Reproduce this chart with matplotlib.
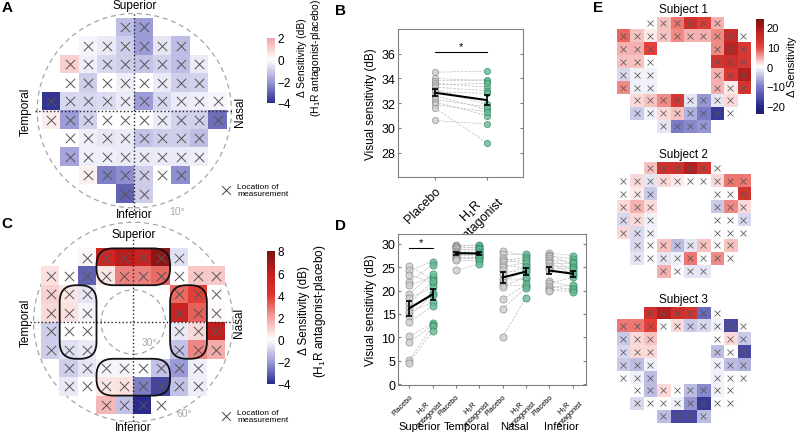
import numpy as np
import matplotlib
matplotlib.use("Agg")
import matplotlib.pyplot as plt
from matplotlib.colors import LinearSegmentedColormap
from matplotlib.patches import Circle, FancyBboxPatch

plt.rcParams['font.family'] = ['Liberation Sans', 'DejaVu Sans']
plt.rcParams['mathtext.fontset'] = 'custom'
plt.rcParams['mathtext.rm'] = 'Liberation Sans'
plt.rcParams['mathtext.it'] = 'Liberation Sans:italic'

nan = np.nan

# ---------------- data ----------------
# A: 10x10 grid, rows superior -> inferior, cols temporal -> nasal (dB)
grid_a = [
    [nan, nan, nan, nan, -1.3, -2.0, nan, nan, nan, nan],
    [nan, nan, -0.2, -0.4, -1.0, -2.0, -0.5, -1.3, nan, nan],
    [nan, 1.0, -0.3, -0.8, -1.0, -1.2, -0.9, -1.3, -0.4, nan],
    [nan, 0.0, -1.0, 0.0, -0.3, 0.0, -0.4, -1.0, -0.9, nan],
    [-3.8, -0.8, -0.8, -0.7, -0.4, -2.0, -0.8, -0.4, -0.3, -0.2],
    [0.4, -2.0, -0.9, 0.0, 0.0, 0.0, -0.4, -0.9, -0.9, -2.8],
    [nan, 0.0, -0.3, -0.5, -0.4, -1.2, -1.0, -1.0, -1.3, nan],
    [nan, -1.8, -0.3, -0.3, -0.4, -0.4, -0.4, -0.4, -0.3, nan],
    [nan, nan, 0.3, -2.5, -2.2, -1.0, 0.0, -2.2, nan, nan],
    [nan, nan, nan, nan, -3.0, -1.0, nan, nan, nan, nan],
]

# C: peripheral ring, 9x10 grid (dB)
grid_c = [
    [nan, nan, 0.2, 5.2, 6.2, 5.6, 7.4, -0.6, nan, nan],
    [0.6, 0.0, -3.0, 0.5, 2.6, 2.6, 3.0, 0.0, 1.2, 1.2],
    [1.0, 0.5, -0.5, nan, nan, nan, nan, 3.0, 3.8, 0.0],
    [0.8, 0.6, -0.2, nan, nan, nan, nan, 5.5, 3.2, 0.1],
    [-1.0, 0.0, 0.0, nan, nan, nan, nan, -0.4, 0.8, 6.0],
    [-1.0, -0.6, -0.4, nan, nan, nan, nan, -1.2, 2.5, 1.8],
    [nan, -1.0, -0.5, -0.2, -0.2, 0.0, -1.2, -2.0, -0.3, nan],
    [nan, -0.4, 0.0, 0.5, 0.6, -2.5, -3.5, -1.2, -0.3, nan],
    [nan, nan, nan, 1.5, -1.2, -4.0, 0.0, nan, nan, nan],
]

# E: single subjects, same ring layout
subject_1 = [
    [nan, nan, 0, 3, 7, 14, 11, 4, nan, nan],
    [8, 3, 1, 3, 6, 4, 4, 6, 15, 0],
    [4, 4, 10, nan, nan, nan, nan, 6, 17, 12],
    [3, 3, 0, nan, nan, nan, nan, 13, 14, 12],
    [-3, -1, -1, nan, nan, nan, nan, 4, 12, 18],
    [6, -1, -1, nan, nan, nan, nan, 4, 1, 13],
    [nan, 2, 3, 6, 12, -2, -8, -2, 2, nan],
    [nan, -4, -1, 2, 3, -6, -10, -18, 0, nan],
    [nan, nan, nan, -2, -10, -9, -8, nan, nan, nan],
]
subject_2 = [
    [nan, nan, 3, 14, 14, 18, 13, 0, nan, nan],
    [0, 2, -2, 2, 1, 0, 0, 2, 7, 7],
    [0, 1, -4, nan, nan, nan, nan, 0, 0, 13],
    [2, 4, 2, nan, nan, nan, nan, -4, 6, 2],
    [-3, 2, -1, nan, nan, nan, nan, 0, 0, -3],
    [2, -3, -1, nan, nan, nan, nan, 0, 0, 0],
    [nan, -3, 0, 3, -5, -2, 3, 0, 3, nan],
    [nan, -2, 0, -2, -1, 7, 0, 6, 0, nan],
    [nan, nan, nan, 4, 0, -2, -2, nan, nan, nan],
]
subject_3 = [
    [nan, nan, 14, 18, 14, 13, -12, 0, nan, nan],
    [7, 7, 10, 0, 2, -4, -3, -1, -16, 0],
    [-4, 2, 3, nan, nan, nan, nan, 0, 2, -4],
    [-3, 2, 2, nan, nan, nan, nan, -5, 0, -16],
    [-4, -5, -1, nan, nan, nan, nan, -1, -5, -6],
    [0, -1, -5, nan, nan, nan, nan, -1, 0, 0],
    [nan, 0, -5, 2, 0, -5, -9, -1, 0, nan],
    [nan, -3, 0, 0, -1, -8, -18, 0, 0, nan],
    [nan, nan, nan, -5, -16, -16, -5, nan, nan, nan],
]

# B: whole-field sensitivity per subject (dB), paired
b_placebo = [34.5, 34.0, 33.8, 33.6, 33.5, 33.3, 33.1, 32.9, 32.6, 32.3, 32.1, 31.9, 31.6, 30.6]
b_h1r = [34.6, 33.8, 33.9, 33.3, 33.6, 33.0, 31.9, 32.8, 31.5, 31.7, 31.0, 31.3, 28.8, 30.3]

# D: per-quadrant sensitivity (dB), paired
d_groups = ["Superior", "Temporal", "Nasal", "Inferior"]
sup_placebo = [25.2, 24.3, 23.4, 21.9, 21.2, 19.3, 18.4, 17.3, 16.2, 15.4, 14.5, 13.2, 10.2, 8.9, 5.2, 4.6]
sup_h1r = [22.4, 26.2, 21.6, 25.5, 22.9, 23.6, 20.7, 22.0, 19.5, 17.5, 19.1, 16.8, 13.0, 12.6, 12.4, 11.3]
tem_placebo = [29.8, 29.6, 29.5, 29.3, 29.0, 28.8, 28.5, 28.3, 28.0, 27.8, 27.5, 27.2, 27.0, 26.8, 26.5, 24.3]
tem_h1r = [29.5, 29.8, 29.0, 29.2, 28.5, 28.8, 28.1, 28.3, 27.6, 27.9, 27.4, 27.2, 26.8, 27.0, 26.3, 25.7]
nas_placebo = [28.4, 27.8, 27.0, 26.5, 26.1, 25.5, 25.0, 24.3, 23.5, 22.5, 21.9, 21.2, 20.8, 18.1, 16.1, 10.1]
nas_h1r = [27.5, 27.8, 25.5, 27.0, 26.5, 24.8, 26.0, 23.8, 25.0, 22.4, 24.3, 21.0, 23.0, 21.3, 20.6, 18.5]
inf_placebo = [28.0, 27.7, 27.4, 27.0, 26.6, 26.2, 25.8, 25.3, 24.8, 24.3, 22.0, 21.6, 21.0, 20.6, 20.2, 20.0]
inf_h1r = [27.5, 25.4, 26.8, 24.2, 26.2, 23.4, 25.8, 25.0, 24.6, 23.8, 20.8, 22.8, 20.1, 21.2, 20.4, 19.8]

# colour anchors
ac_vals = [-4, -2, 0, 2, 4, 6, 8]
ac_cols = ['#2a2a8c', '#9c9cd8', '#ffffff', '#f2a2a0', '#e0342c', '#c41e1e', '#7a1212']
e_vals = [-24, -20, -10, 0, 10, 20, 24]
e_cols = ['#1c1c66', '#28288a', '#7c7cc8', '#ffffff', '#e6403a', '#a81a1a', '#761212']

W, H = 797, 435
fig = plt.figure(figsize=(W / 100, H / 100), dpi=100)


def add_ax(x0, y0, x1, y1):
    return fig.add_axes([x0 / W, 1 - y1 / H, (x1 - x0) / W, (y1 - y0) / H])


def ftext(x, y, s, **kw):
    fig.text(x / W, 1 - y / H, s, **kw)


def make_cmap(vals, cols, lo, hi):
    pts = [((v - lo) / (hi - lo), c) for v, c in zip(vals, cols) if lo <= v <= hi]
    return LinearSegmentedColormap.from_list('m', pts)


def draw_grid(ax, grid, x0, y0, cmap, vmin, vmax, ms, mlw):
    g = np.array(grid, dtype=float)
    nr, nc = g.shape
    im = ax.imshow(g, cmap=cmap, vmin=vmin, vmax=vmax, aspect='auto',
                   extent=(x0, x0 + nc, y0 - nr, y0), interpolation='nearest', zorder=1)
    rr, cc = np.where(~np.isnan(g))
    ax.scatter(x0 + cc + 0.5, y0 - rr - 0.5, marker='x', s=ms, c='#555555',
               linewidths=mlw, zorder=4)
    return im


def field_labels(ax, top_y, bot_y):
    ax.text(0, top_y, 'Superior', ha='center', va='center', fontsize=8.5)
    ax.text(0, bot_y, 'Inferior', ha='center', va='center', fontsize=8.5)
    ax.text(-5.85, 0, 'Temporal', ha='center', va='center', rotation=90, fontsize=8.5)
    ax.text(5.72, 0, 'Nasal', ha='center', va='center', rotation=90, fontsize=8.5)


def legend_x(ax, x, y):
    ax.scatter([x], [y], marker='x', s=40, c='#444444', linewidths=0.7, clip_on=False)
    ax.text(x + 0.6, y, 'Location of\nmeasurement', ha='left', va='center',
            fontsize=6, linespacing=1.1)


# ---------------- A ----------------
axA = add_ax(134.3 - 6.5 * 18.5, 111.7 - 6 * 18.5, 134.3 + 6.5 * 18.5, 111.7 + 6 * 18.5)
cmapA = make_cmap(ac_vals, ac_cols, -4, 2)
imA = draw_grid(axA, grid_a, -5, 5, cmapA, -4, 2, 45, 0.7)
axA.add_patch(Circle((0, 0), 5.25, fill=False, ec='#a5a5a5', lw=0.9, ls=(0, (4, 3)), zorder=0))
axA.plot([-5.35, 5.35], [0, 0], color='#222222', ls=':', lw=1.0, zorder=5)
axA.plot([0, 0], [-5.6, 5.35], color='#222222', ls=':', lw=1.0, zorder=5)
field_labels(axA, 5.7, -5.6)
axA.text(2.3, -5.4, '10°', ha='center', va='center', fontsize=7.5, color='#aaaaaa')
legend_x(axA, 4.95, -4.3)
axA.set_xlim(-6.5, 6.5)
axA.set_ylim(-6, 6)
axA.axis('off')

caxA = add_ax(266.7, 38.5, 275, 104)
cbA = fig.colorbar(imA, cax=caxA, ticks=[-4, -2, 0, 2])
cbA.outline.set_linewidth(0)
caxA.tick_params(length=0, pad=2, labelsize=8.5)
ftext(310, 58, 'Δ Sensitivity (dB)\n(H$_1$R antagonist-placebo)', rotation=90,
      ha='center', va='center', fontsize=7.5, multialignment='center', linespacing=1.25)

# ---------------- C ----------------
axC = add_ax(133.3 - 6.5 * 18.4, 323 - 5.7 * 18.4, 133.3 + 6.5 * 18.4, 323 + 6.0 * 18.4)
cmapC = make_cmap(ac_vals, ac_cols, -4, 8)
imC = draw_grid(axC, grid_c, -5, 4, cmapC, -4, 8, 45, 0.7)
axC.add_patch(Circle((0, 0), 5.42, fill=False, ec='#a5a5a5', lw=0.9, ls=(0, (4, 3)), zorder=0))
axC.add_patch(Circle((0, 0), 1.75, fill=False, ec='#a5a5a5', lw=0.9, ls=(0, (4, 3)), zorder=2))
for (bx, by, bw, bh) in [(-2, 2, 4, 2), (-4, -2, 2, 4), (2, -2, 2, 4), (-2, -4, 4, 2)]:
    axC.add_patch(FancyBboxPatch((bx, by), bw, bh, boxstyle='round,pad=0,rounding_size=0.9',
                                 fill=False, ec='#111111', lw=1.3, zorder=6))
axC.plot([-5.6, 5.6], [0, 0], color='#222222', ls=':', lw=1.0, zorder=5)
axC.plot([0, 0], [-5.4, 4.7], color='#222222', ls=':', lw=1.0, zorder=5)
field_labels(axC, 4.8, -5.7)
axC.text(0.9, -1.1, '30°', ha='center', va='center', fontsize=7.5, color='#aaaaaa')
axC.text(2.75, -4.95, '60°', ha='center', va='center', fontsize=7.5, color='#aaaaaa')
legend_x(axC, 5.05, -5.1)
axC.set_xlim(-6.5, 6.5)
axC.set_ylim(-6.0, 5.7)
axC.axis('off')

caxC = add_ax(266.7, 252, 275, 385)
cbC = fig.colorbar(imC, cax=caxC, ticks=[-4, -2, 0, 2, 4, 6, 8])
cbC.outline.set_linewidth(0)
caxC.tick_params(length=0, pad=2, labelsize=8.5)
ftext(313, 311, 'Δ Sensitivity (dB)\n(H$_1$R antagonist-placebo)', rotation=90,
      ha='center', va='center', fontsize=8.5, multialignment='center', linespacing=1.2)

# ---------------- B / D helpers ----------------
pla_face, pla_edge = '#cfcfcf', '#8a8a8a'
h1r_face, h1r_edge = '#6cb896', '#2f8a60'


def style_box(ax):
    for s in ax.spines.values():
        s.set_color('#808080')
        s.set_linewidth(0.8)
    ax.tick_params(axis='y', which='both', direction='in', right=True, left=True,
                   length=2.5, color='#808080', labelsize=9, pad=2)
    ax.tick_params(axis='x', direction='out', length=2, color='#808080')


def paired(ax, xa, xb, a, b, s):
    for p, h in zip(a, b):
        ax.plot([xa, xb], [p, h], color='#bdbdbd', ls='--', lw=0.5, zorder=1)
    ax.scatter([xa] * len(a), a, s=s, fc=pla_face, ec=pla_edge, lw=0.6, alpha=0.8, zorder=2)
    ax.scatter([xb] * len(b), b, s=s, fc=h1r_face, ec=h1r_edge, lw=0.6, alpha=0.8, zorder=2)
    means = [np.mean(a), np.mean(b)]
    sems = [np.std(a, ddof=1) / np.sqrt(len(a)), np.std(b, ddof=1) / np.sqrt(len(b))]
    ax.errorbar([xa, xb], means, yerr=sems, color='k', lw=1.5, elinewidth=1.2,
                capsize=2, capthick=1.2, zorder=5)


# ---------------- B ----------------
axB = add_ax(398.3, 30, 523.3, 178.3)
paired(axB, 1, 2, b_placebo, b_h1r, 20)
axB.plot([1, 2], [36.15, 36.15], color='k', lw=0.8)
axB.text(1.5, 36.25, '*', ha='center', va='bottom', fontsize=8)
axB.set_xlim(0.29, 2.71)
axB.set_ylim(26, 38)
axB.set_yticks([28, 30, 32, 34, 36])
axB.set_xticks([1, 2])
axB.set_xticklabels(['Placebo', 'H$_1$R\nantagonist'], rotation=45, ha='right',
                    rotation_mode='anchor', fontsize=9, linespacing=1.0, multialignment='center')
axB.set_ylabel('Visual sensitivity (dB)', fontsize=8.5, labelpad=3)
style_box(axB)

# ---------------- D ----------------
axD = add_ax(398.3, 235, 586, 386)
d_pairs = [(sup_placebo, sup_h1r), (tem_placebo, tem_h1r), (nas_placebo, nas_h1r), (inf_placebo, inf_h1r)]
for i, (a, b) in enumerate(d_pairs):
    paired(axD, 2 * i + 1, 2 * i + 2, a, b, 26)
axD.plot([1, 2], [29.0, 29.0], color='k', lw=0.8)
axD.text(1.5, 29.2, '*', ha='center', va='bottom', fontsize=8)
axD.set_xlim(0.53, 8.57)
axD.set_ylim(-0.2, 32.1)
axD.set_yticks([0, 5, 10, 15, 20, 25, 30])
axD.set_xticks(range(1, 9))
axD.set_xticklabels(['Placebo', 'H$_1$R\nantagonist'] * 4, rotation=45, ha='right',
                    rotation_mode='anchor', fontsize=5.3, linespacing=0.95,
                    multialignment='center')
axD.set_ylabel('Visual sensitivity (dB)', fontsize=8.5, labelpad=3)
for i, g in enumerate(d_groups):
    ftext(420 + 47 * i, 427.5, g, ha='center', va='center', fontsize=8)
style_box(axD)

# ---------------- E ----------------
cmapE = make_cmap(e_vals, e_cols, -24, 24)
imE = None
for k, (grid, top) in enumerate([(subject_1, 17.5), (subject_2, 162.5), (subject_3, 307.5)]):
    ax = add_ax(616.7, top, 750, top + 116.2)
    imE = draw_grid(ax, grid, 0, 0, cmapE, -24, 24, 18, 0.55)
    ax.set_xlim(0, 10)
    ax.set_ylim(-9, 0)
    ax.axis('off')
    ftext(683.3, top - 7.5, 'Subject %d' % (k + 1), ha='center', va='center', fontsize=8.5)

caxE = add_ax(755.7, 20, 764, 115)
cbE = fig.colorbar(imE, cax=caxE, ticks=[-20, -10, 0, 10, 20])
cbE.outline.set_linewidth(0)
caxE.tick_params(length=0, pad=2, labelsize=8)
ftext(792, 67, 'Δ Sensitivity', rotation=90, ha='center', va='center', fontsize=8)

# panel letters
for lab, (x, y) in {'A': (7, 8), 'B': (341, 11), 'C': (7, 224), 'D': (341, 226), 'E': (598, 8)}.items():
    ftext(x, y, lab, ha='center', va='center', fontsize=11, fontweight='bold')

fig.savefig('out.png', dpi=100)
